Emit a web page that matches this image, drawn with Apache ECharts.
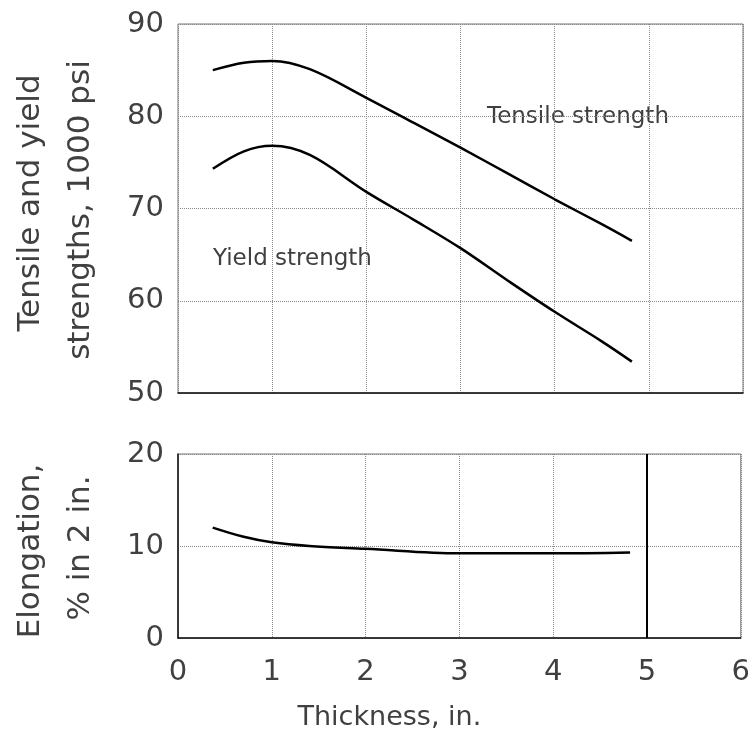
<!DOCTYPE html>
<html><head><meta charset="utf-8">
<script src="https://cdn.jsdelivr.net/npm/echarts@6/dist/echarts.min.js"></script>
<style>html,body{margin:0;padding:0;background:#fff}#c{width:753px;height:734px}</style>
</head><body><div id="c"></div>
<script>
// Data
const tensileX = [0.37, 0.7, 1.0, 1.4, 2.0, 2.5, 3.0, 3.5, 4.0, 4.5, 4.82];
const tensileY = [85.0, 85.8, 86.0, 85.1, 82.0, 79.3, 76.6, 73.8, 71.0, 68.3, 66.5];
const yieldX = [0.37, 0.7, 1.0, 1.4, 2.0, 2.5, 3.0, 3.5, 4.0, 4.5, 4.82];
const yieldY = [74.3, 76.2, 76.8, 75.8, 71.8, 68.8, 65.7, 62.2, 58.8, 55.6, 53.4];
const elongX = [0.37, 0.7, 1.0, 1.4, 2.0, 3.0, 4.0, 4.82];
const elongY = [12.0, 11.0, 10.4, 10.0, 9.7, 9.2, 9.2, 9.3];
const xTicks = [0, 1, 2, 3, 4, 5, 6];
const topTicks = [50, 60, 70, 80, 90];
const bottomTicks = [0, 10, 20];

const pair = (xs, ys) => xs.map((x, i) => [x, ys[i]]);
const FONT = 'DejaVu Sans';
const TXT = '#404040';
const gridLine = {show: true, lineStyle: {color: '#8a8a8a', type: 'dotted', width: 1}};

const chart = echarts.init(document.getElementById('c'), null, {renderer: 'canvas'});
chart.setOption({
  backgroundColor: '#fff',
  animation: false,
  grid: [
    {left: 178, width: 565, top: 24, height: 369, show: true, borderColor: '#777', borderWidth: 1, backgroundColor: 'transparent'},
    {left: 178, width: 565, top: 454, height: 184, show: true, borderColor: '#777', borderWidth: 1, backgroundColor: 'transparent'}
  ],
  xAxis: [
    {gridIndex: 0, type: 'value', min: xTicks[0], max: xTicks[xTicks.length - 1], interval: 1,
     axisLine: {show: true, onZero: false, lineStyle: {color: '#111', width: 1.5}},
     axisTick: {show: false}, axisLabel: {show: false}, splitLine: gridLine},
    {gridIndex: 1, type: 'value', min: xTicks[0], max: xTicks[xTicks.length - 1], interval: 1,
     axisLine: {show: true, onZero: false, lineStyle: {color: '#111', width: 1.5}},
     axisTick: {show: false},
     axisLabel: {show: true, margin: 20, fontFamily: FONT, fontSize: 29, color: TXT},
     splitLine: gridLine,
     name: 'Thickness, in.', nameLocation: 'middle', nameGap: 66,
     nameTextStyle: {fontFamily: FONT, fontSize: 27, color: TXT, padding: [0, 140, 0, 0]}}
  ],
  yAxis: [
    {gridIndex: 0, type: 'value', min: topTicks[0], max: topTicks[topTicks.length - 1], interval: 10,
     axisLine: {show: false}, axisTick: {show: false},
     axisLabel: {margin: 14, fontFamily: FONT, fontSize: 29, color: TXT},
     splitLine: gridLine},
    {gridIndex: 1, type: 'value', min: bottomTicks[0], max: bottomTicks[bottomTicks.length - 1], interval: 10,
     axisLine: {show: true, lineStyle: {color: '#111', width: 1.5}}, axisTick: {show: false},
     axisLabel: {margin: 14, fontFamily: FONT, fontSize: 29, color: TXT},
     splitLine: gridLine}
  ],
  series: [
    {name: 'Tensile strength', type: 'line', xAxisIndex: 0, yAxisIndex: 0, data: pair(tensileX, tensileY),
     smooth: 0.35, showSymbol: false, lineStyle: {color: '#000', width: 2.5}},
    {name: 'Yield strength', type: 'line', xAxisIndex: 0, yAxisIndex: 0, data: pair(yieldX, yieldY),
     smooth: 0.35, showSymbol: false, lineStyle: {color: '#000', width: 2.5}},
    {name: 'Elongation', type: 'line', xAxisIndex: 1, yAxisIndex: 1, data: pair(elongX, elongY),
     smooth: 0.35, showSymbol: false, lineStyle: {color: '#000', width: 2.5},
     markLine: {silent: true, symbol: 'none', label: {show: false},
       lineStyle: {color: '#000', type: 'solid', width: 2}, data: [{xAxis: 5}]}}
  ],
  graphic: [
    {type: 'text', x: 487, y: 117, style: {text: 'Tensile strength', font: '23px "DejaVu Sans"', fill: TXT, verticalAlign: 'middle'}},
    {type: 'text', x: 213, y: 259, style: {text: 'Yield strength', font: '23px "DejaVu Sans"', fill: TXT, verticalAlign: 'middle'}},
    {type: 'text', x: 31, y: 203, rotation: Math.PI / 2, style: {text: 'Tensile and yield', font: '31px "DejaVu Sans"', fill: TXT, align: 'center', verticalAlign: 'middle'}},
    {type: 'text', x: 81, y: 210, rotation: Math.PI / 2, style: {text: 'strengths, 1000 psi', font: '31px "DejaVu Sans"', fill: TXT, align: 'center', verticalAlign: 'middle'}},
    {type: 'text', x: 31, y: 551, rotation: Math.PI / 2, style: {text: 'Elongation,', font: '31px "DejaVu Sans"', fill: TXT, align: 'center', verticalAlign: 'middle'}},
    {type: 'text', x: 81, y: 548, rotation: Math.PI / 2, style: {text: '% in 2 in.', font: '31px "DejaVu Sans"', fill: TXT, align: 'center', verticalAlign: 'middle'}}
  ]
});
</script></body></html>
